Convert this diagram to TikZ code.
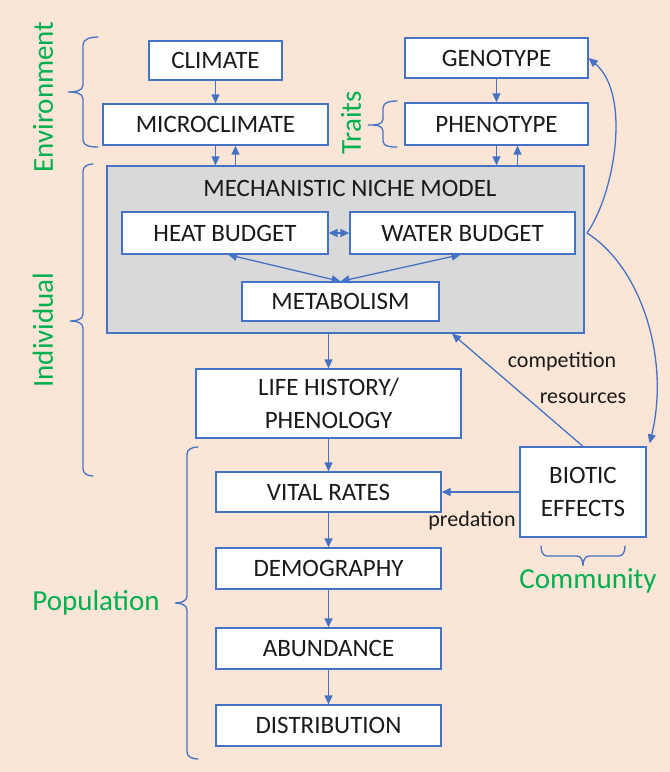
\documentclass[tikz,border=0pt]{standalone}
\usepackage{fontspec}
\setmainfont{Carlito}
\usetikzlibrary{arrows.meta}
\definecolor{peach}{HTML}{FBE5D6}
\definecolor{bblue}{HTML}{4472C4}
\definecolor{ggreen}{HTML}{00B050}
\definecolor{mgray}{HTML}{D9D9D9}
\definecolor{ink}{HTML}{1A1A1A}
\tikzset{
  box/.style={draw=bblue, line width=1.3pt, fill=white, inner sep=0pt, align=center,
    text=ink, font=\fontsize{25}{33}\selectfont},
  arr/.style={draw=bblue, line width=1.3pt, -{Triangle[length=9pt,width=8pt]}},
  arrb/.style={draw=bblue, line width=1.3pt, {Triangle[length=9pt,width=8pt]}-{Triangle[length=9pt,width=8pt]}},
  brc/.style={draw=bblue, line width=1.3pt, line cap=round},
  glab/.style={text=ggreen, font=\fontsize{29}{34}\selectfont, inner sep=0pt},
  slab/.style={text=ink, font=\fontsize{22}{26}\selectfont, inner sep=0pt},
}
\begin{document}
\begin{tikzpicture}[x=1pt,y=-1pt]
\fill[peach] (0,0) rectangle (670,772);
\useasboundingbox (0,0) rectangle (670,772);

% boxes
\node[box, minimum width=133pt, minimum height=39pt] (climate) at (215.5,60.5) {CLIMATE};
\node[box, minimum width=225pt, minimum height=41pt] (micro) at (215.5,124.5) {MICROCLIMATE};
\node[box, minimum width=183pt, minimum height=40pt] (geno) at (496.5,58) {GENOTYPE};
\node[box, minimum width=183pt, minimum height=42pt] (pheno) at (496.5,124) {PHENOTYPE};
\node[box, fill=mgray, minimum width=477pt, minimum height=167pt] (mnm) at (345.5,249.5) {};
\node[text=ink, font=\fontsize{25}{30}\selectfont, inner sep=0pt] (mnmt) at (350,188) {MECHANISTIC NICHE MODEL};
\node[box, minimum width=206pt, minimum height=42pt] (heat) at (225,233) {HEAT BUDGET};
\node[box, minimum width=225pt, minimum height=42pt] (water) at (462.5,233) {WATER BUDGET};
\node[box, minimum width=197pt, minimum height=39pt] (metab) at (340.5,301.5) {METABOLISM};
\node[box, minimum width=265pt, minimum height=69pt] (life) at (328.5,403.5) {LIFE HISTORY/\\PHENOLOGY};
\node[box, minimum width=225pt, minimum height=40pt] (vital) at (328.5,492) {VITAL RATES};
\node[box, minimum width=225pt, minimum height=41pt] (demo) at (328.5,568.5) {DEMOGRAPHY};
\node[box, minimum width=225pt, minimum height=41pt] (abund) at (328.5,648.5) {ABUNDANCE};
\node[box, minimum width=225pt, minimum height=41pt] (distr) at (328.5,725.5) {DISTRIBUTION};
\node[box, minimum width=126pt, minimum height=90pt] (biotic) at (583,492) {BIOTIC\\EFFECTS};

% arrows
\draw[arr] (climate) -- (micro);
\draw[arr] (micro.south) -- (micro.south |- mnm.north);
\draw[arr] ([xshift=20pt]micro.south |- mnm.north) -- ([xshift=20pt]micro.south);
\draw[arr] (geno) -- (pheno);
\draw[arr] (pheno.south) -- (pheno.south |- mnm.north);
\draw[arr] ([xshift=21pt]pheno.south |- mnm.north) -- ([xshift=21pt]pheno.south);
\draw[arrb] (heat.east) -- (water.west);
\draw[arrb] ([xshift=3pt]heat.south) -- (metab.north);
\draw[arrb] ([xshift=-2pt]water.south) -- (metab.north);
\draw[arr] (life.north |- mnm.south) -- (life.north);
\draw[arr] (life) -- (vital);
\draw[arr] (vital) -- (demo);
\draw[arr] (demo) -- (abund);
\draw[arr] (abund.south) -- (abund.south |- distr.north);
\draw[arr] (biotic.west) -- (biotic.west -| vital.east);
\draw[arr] (biotic.north) -- ([xshift=106.5pt]mnm.south);
\coordinate (split) at (587,233);
\draw[arr] (split) .. controls (614,195) and (632,95) .. (geno.east);
\draw[arr] (split) .. controls (642,268) and (670,360) .. ([xshift=3pt,yshift=3pt]biotic.north east);

% labels
\node[slab] (comp) at (562,362) {competition};
\node[slab] (res) at (583,398) {resources};
\node[slab] (pred) at (472,521) {predation};

% braces
\draw[brc] (98,37) to[out=180,in=90] (83,45) -- (83,85) to[out=-90,in=0] (68,92)
  to[out=0,in=90] (83,99) -- (83,140) to[out=-90,in=180] (98,147);
\draw[brc] (93,164) to[out=180,in=90] (83,171) -- (83,314) to[out=-90,in=0] (70,321)
  to[out=0,in=90] (83,328) -- (83,469) to[out=-90,in=180] (93,476);
\draw[brc] (397,101) to[out=180,in=90] (383,108) -- (383,119) to[out=-90,in=0] (368,125)
  to[out=0,in=90] (383,131) -- (383,141) to[out=-90,in=180] (397,147);
\draw[brc] (198,447) to[out=180,in=90] (187,454) -- (187,596) to[out=-90,in=0] (175,603)
  to[out=0,in=90] (187,610) -- (187,752) to[out=-90,in=180] (198,759);
\draw[brc] (541,546) to[out=-90,in=180] (547,556) -- (577,556) to[out=0,in=90] (583,566)
  to[out=90,in=180] (589,556) -- (619,556) to[out=0,in=-90] (625,546);

\node[glab, rotate=90] (env) at (43,97) {Environment};
\node[glab, rotate=90] (traits) at (351,123) {Traits};
\node[glab, rotate=90] (indiv) at (43,330) {Individual};
\node[glab] (pop) at (96,603) {Population};
\node[glab] (comm) at (588,581) {Community};
\end{tikzpicture}
\end{document}
